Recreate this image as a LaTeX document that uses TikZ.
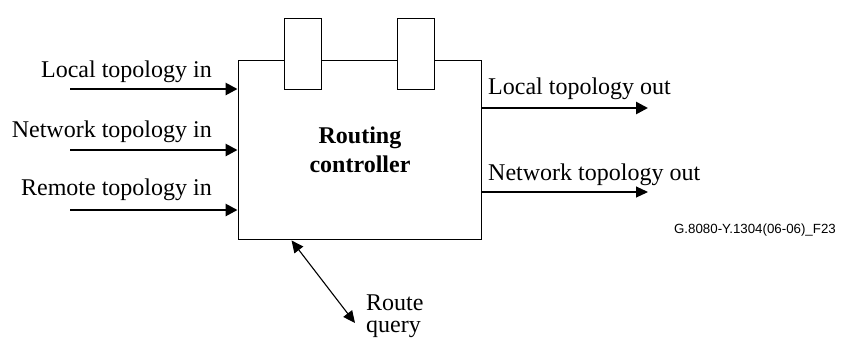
\documentclass[tikz,border=0pt]{standalone}
\usepackage{fontspec}
\setmainfont{Liberation Serif}
\setsansfont{Liberation Sans}
\usetikzlibrary{arrows.meta}
\tikzset{
  lbl/.style={inner sep=0pt,font=\fontsize{24}{26}\selectfont},
  thickarr/.style={line width=2.6pt,-{Triangle[length=12pt,width=12pt]}},
  thinarr/.style={line width=1.1pt,-{Triangle[length=12pt,width=11pt]}},
  port/.style={draw,fill=white,line width=0.9pt,minimum width=37pt,minimum height=71pt,inner sep=0pt}
}
\begin{document}
\begin{tikzpicture}[x=1pt,y=-1pt]
\useasboundingbox (0,0) rectangle (842,341);
\node[draw,line width=0.9pt,minimum width=243pt,minimum height=179pt,inner sep=0pt] (ctrl) at (359.5,149.5) {};
\node[port] (p1) at (302.5,53.5) {};
\node[port] (p2) at (415.5,53.5) {};
\node[lbl,font=\fontsize{24}{26}\selectfont\bfseries,anchor=base] (rt) at (360,143) {Routing};
\node[lbl,font=\fontsize{24}{26}\selectfont\bfseries,anchor=base] (rc) at (360,172) {controller};
% inputs
\coordinate (in1) at (70,89);
\coordinate (in2) at (70,150);
\coordinate (in3) at (70,210);
\draw[thickarr] (in1) -- (in1 -| ctrl.west);
\draw[thickarr] (in2) -- (in2 -| ctrl.west);
\draw[thickarr] (in3) -- (in3 -| ctrl.west);
\node[lbl,anchor=base east] (li) at (212,77) {Local topology in};
\node[lbl,anchor=base east] (ni) at (212,137) {Network topology in};
\node[lbl,anchor=base east] (ri) at (212,195) {Remote topology in};
% outputs
\coordinate (out1) at (648,108);
\coordinate (out2) at (648,192);
\draw[thickarr] (out1 -| ctrl.east) -- (out1);
\draw[thinarr] (out2 -| ctrl.east) -- (out2);
\node[lbl,anchor=base west] (lo) at (488,94) {Local topology out};
\node[lbl,anchor=base west] (no) at (488,180) {Network topology out};
\node[inner sep=0pt,anchor=base east,font=\sffamily\fontsize{13.3}{15}\selectfont] (fig) at (836,233) {G.8080-Y.1304(06-06)\_F23};
% route query
\coordinate (rq) at (355,323);
\draw[line width=1.1pt,{Triangle[length=12pt,width=11pt]}-{Triangle[length=12pt,width=11pt]}] (ctrl.south west) ++(54,1) -- (rq);
\node[lbl,anchor=base west] (rq1) at (366,310) {Route};
\node[lbl,anchor=base west] (rq2) at (366,332) {query};
\end{tikzpicture}
\end{document}
